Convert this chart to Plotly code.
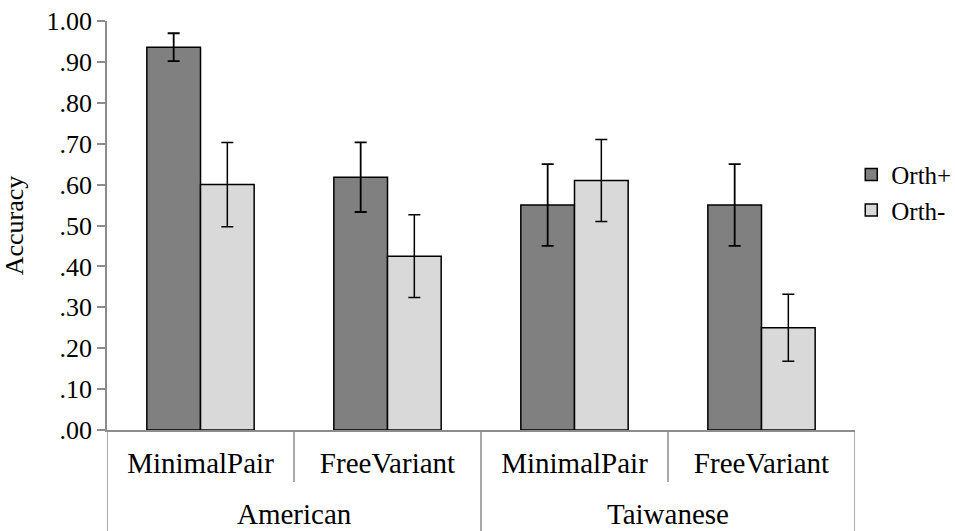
import plotly.graph_objects as go

# Accuracy by speaker group and item type, with/without orthography
groups = ["American", "American", "Taiwanese", "Taiwanese"]
item_types = ["MinimalPair", "FreeVariant", "MinimalPair", "FreeVariant"]

orth_plus = [0.936, 0.618, 0.550, 0.550]
orth_plus_err = [0.034, 0.085, 0.100, 0.100]
orth_minus = [0.600, 0.425, 0.610, 0.250]
orth_minus_err = [0.103, 0.101, 0.100, 0.082]

y_ticks = [0.0, 0.1, 0.2, 0.3, 0.4, 0.5, 0.6, 0.7, 0.8, 0.9, 1.0]
y_tick_text = [".00", ".10", ".20", ".30", ".40", ".50", ".60", ".70", ".80", ".90", "1.00"]

FONT = "Times New Roman"
AXIS_GRAY = "#8c8c8c"

# one category key per (group, item type) pair; the item type is shown as tick text
keys = [f"{g} {t}" for g, t in zip(groups, item_types)]

fig = go.Figure()
fig.add_trace(go.Bar(
    name="Orth+", x=keys, y=orth_plus,
    marker=dict(color="#808080", line=dict(color="#000000", width=1.5)),
    error_y=dict(type="data", array=orth_plus_err, color="#000000",
                 thickness=1.8, width=6),
))
fig.add_trace(go.Bar(
    name="Orth-", x=keys, y=orth_minus,
    marker=dict(color="#d9d9d9", line=dict(color="#000000", width=1.5)),
    error_y=dict(type="data", array=orth_minus_err, color="#000000",
                 thickness=1.5, width=6),
))

# separators below the axis: short ones between item types, long ones between groups
line_style = dict(color=AXIS_GRAY, width=1.5)
group_names = list(dict.fromkeys(groups))
bounds = [-0.5]
for name in group_names:
    bounds.append(bounds[-1] + groups.count(name))
for b in bounds:
    fig.add_shape(type="line", xref="x", yref="paper", x0=b, x1=b,
                  y0=0, y1=-0.27, line=line_style, layer="below")
for i in range(len(keys) - 1):
    if groups[i] == groups[i + 1]:
        fig.add_shape(type="line", xref="x", yref="paper", x0=i + 0.5, x1=i + 0.5,
                      y0=0, y1=-0.127, line=line_style, layer="below")
for name, lo, hi in zip(group_names, bounds[:-1], bounds[1:]):
    fig.add_annotation(text=name, xref="x", yref="paper", x=(lo + hi) / 2,
                       y=-0.205, yanchor="middle", showarrow=False,
                       font=dict(family=FONT, size=29, color="black"))

fig.update_layout(
    width=955, height=531,
    margin=dict(l=107, r=100, t=21, b=101, autoexpand=False),
    plot_bgcolor="white", paper_bgcolor="white",
    barmode="group", bargap=0.426, bargroupgap=0,
    font=dict(family=FONT, size=26, color="black"),
    legend=dict(x=0.995, y=0.581, xanchor="left", yanchor="middle",
                font=dict(family=FONT, size=25, color="black")),
    showlegend=True,
)

fig.update_yaxes(
    range=[0, 1.0], tickvals=y_ticks, ticktext=y_tick_text,
    showgrid=False, zeroline=False,
    showline=True, linecolor=AXIS_GRAY, linewidth=1.5,
    ticks="outside", ticklen=8, tickcolor=AXIS_GRAY, tickwidth=1.5,
    tickfont=dict(family=FONT, size=26, color="black"),
    title=dict(text="Accuracy", font=dict(family=FONT, size=26, color="black")),
)
fig.update_xaxes(
    type="category", tickvals=keys, ticktext=item_types,
    range=[-0.5, len(keys) - 0.5],
    showgrid=False, zeroline=False,
    showline=True, linecolor=AXIS_GRAY, linewidth=1.5,
    ticks="outside", ticklen=6, tickcolor="rgba(0,0,0,0)",
    tickfont=dict(family=FONT, size=29, color="black"),
)

fig.write_html("out.html")
